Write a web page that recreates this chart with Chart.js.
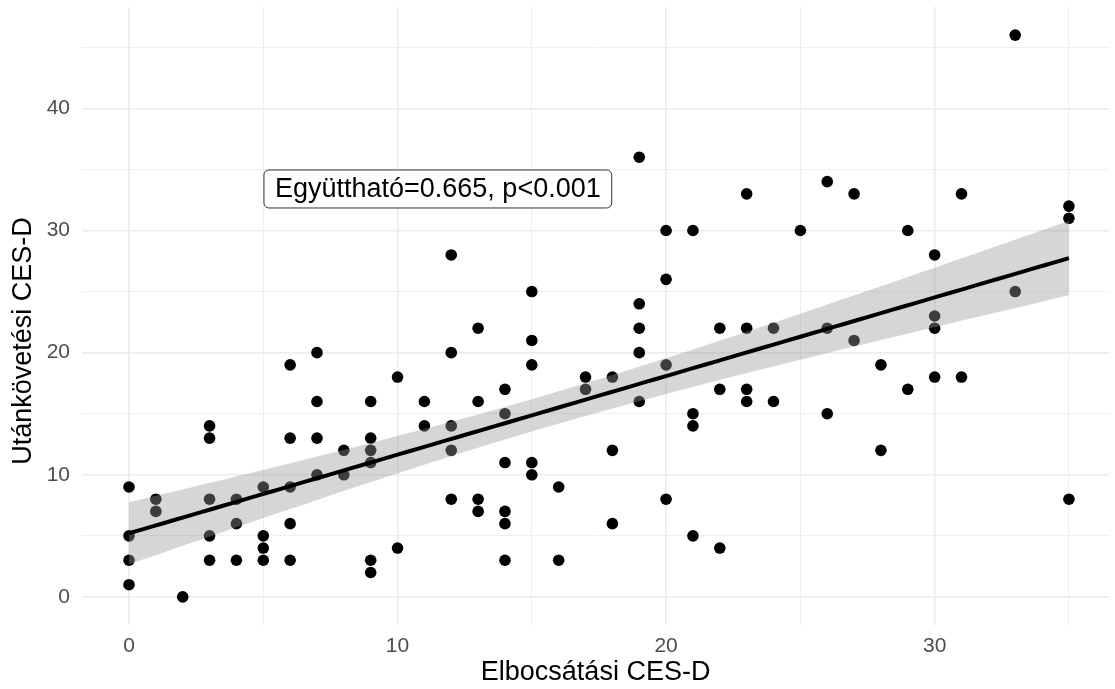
<!DOCTYPE html>
<html>
<head>
<meta charset="utf-8">
<script src="https://cdn.jsdelivr.net/npm/chart.js@4"></script>
<style>
  html, body { margin: 0; padding: 0; background: #fff; overflow: hidden; }
  #wrap { width: 1115px; height: 689px; }
</style>
</head>
<body>
<div id="wrap"><canvas id="chart"></canvas></div>
<script>
// Data
const elbocsatasi = [0,0,0,0, 1,1, 2, 3,3,3,3,3, 4,4,4, 5,5,5,5, 6,6,6,6,6, 7,7,7,7, 8,8,
  9,9,9,9,9,9, 10,10, 11,11, 12,12,12,12,12, 13,13,13,13, 14,14,14,14,14,14,
  15,15,15,15,15, 16,16, 17,17, 18,18,18, 19,19,19,19,19, 20,20,20,20,
  21,21,21,21, 22,22,22, 23,23,23,23, 24,24, 25, 26,26,26, 27,27, 28,28, 29,29,
  30,30,30,30, 31,31, 33,33, 35,35,35];
const utankovetesi = [9,5,3,1, 8,7, 0, 14,13,8,5,3, 8,6,3, 9,5,4,3, 19,13,9,6,3, 20,16,13,10, 12,10,
  16,13,12,11,3,2, 18,4, 16,14, 28,20,14,12,8, 22,16,8,7, 17,15,11,7,6,3,
  25,21,19,11,10, 9,3, 18,17, 18,12,6, 36,24,22,20,16, 30,26,19,8,
  30,15,14,5, 22,17,4, 33,22,17,16, 22,16, 30, 34,22,15, 33,21, 19,12, 30,17,
  28,23,22,18, 33,18, 46,25, 32,31,8];

const xTicks = [0, 5, 10, 15, 20, 25, 30, 35];
const yTicks = [0, 5, 10, 15, 20, 25, 30, 35, 40, 45];
const labelText = 'Együttható=0.665, p<0.001';
const yTitle = 'Utánkövetési CES-D';

// Linear fit + 95% confidence band (like geom_smooth(method = "lm"))
const n = elbocsatasi.length;
const mx = elbocsatasi.reduce((a, b) => a + b, 0) / n;
const my = utankovetesi.reduce((a, b) => a + b, 0) / n;
let sxx = 0, sxy = 0;
for (let i = 0; i < n; i++) {
  sxx += (elbocsatasi[i] - mx) ** 2;
  sxy += (elbocsatasi[i] - mx) * (utankovetesi[i] - my);
}
const slope = sxy / sxx;
const intercept = my - slope * mx;
let sse = 0;
for (let i = 0; i < n; i++) {
  sse += (utankovetesi[i] - intercept - slope * elbocsatasi[i]) ** 2;
}
const se = Math.sqrt(sse / (n - 2));
const tval = 1.982;
const xLo = Math.min(...elbocsatasi), xHi = Math.max(...elbocsatasi);

const fitLine = [], bandUp = [], bandLo = [];
for (let k = 0; k <= 80; k++) {
  const x = xLo + (xHi - xLo) * k / 80;
  const yh = intercept + slope * x;
  const h = tval * se * Math.sqrt(1 / n + (x - mx) ** 2 / sxx);
  fitLine.push({ x, y: yh });
  bandUp.push({ x, y: yh + h });
  bandLo.push({ x, y: yh - h });
}

const points = elbocsatasi.map((x, i) => ({ x, y: utankovetesi[i] }));

const font = "'Liberation Sans', Arial, sans-serif";
const gridW = ctx => (ctx.tick && ctx.tick.value % 10 === 0 ? 1.6 : 0.8);

// Label box drawn at a data position, plus the y axis title
const labelAt = { x: 11.5, y: 33.4 };
const labelPlugin = {
  id: 'labelBox',
  afterDatasetsDraw(chart) {
    const c = chart.ctx;
    const px = chart.scales.x.getPixelForValue(labelAt.x);
    const py = chart.scales.y.getPixelForValue(labelAt.y);
    c.save();
    c.font = '27px ' + font;
    const w = c.measureText(labelText).width + 22;
    const h = 38;
    c.beginPath();
    c.roundRect(px - w / 2, py - h / 2, w, h, 5);
    c.fillStyle = '#ffffff';
    c.fill();
    c.lineWidth = 1;
    c.strokeStyle = '#333333';
    c.stroke();
    c.fillStyle = '#000000';
    c.textAlign = 'center';
    c.textBaseline = 'middle';
    c.fillText(labelText, px, py + 1);
    c.restore();
  },
  afterDraw(chart) {
    const c = chart.ctx;
    c.save();
    c.translate(24, 341);
    c.rotate(-Math.PI / 2);
    c.font = '27px ' + font;
    c.fillStyle = '#000000';
    c.textAlign = 'center';
    c.textBaseline = 'middle';
    c.fillText(yTitle, 0, 0);
    c.restore();
  }
};

new Chart(document.getElementById('chart'), {
  type: 'scatter',
  data: {
    datasets: [
      {
        label: 'fit',
        data: fitLine,
        showLine: true,
        borderColor: '#000000',
        borderWidth: 4,
        pointRadius: 0,
        fill: false,
        order: 0
      },
      {
        label: 'upper',
        data: bandUp,
        showLine: true,
        borderWidth: 0,
        borderColor: 'rgba(0,0,0,0)',
        pointRadius: 0,
        fill: false,
        order: 1
      },
      {
        label: 'lower',
        data: bandLo,
        showLine: true,
        borderWidth: 0,
        borderColor: 'rgba(0,0,0,0)',
        backgroundColor: 'rgba(153,153,153,0.4)',
        pointRadius: 0,
        fill: '-1',
        order: 2
      },
      {
        label: 'points',
        data: points,
        backgroundColor: '#000000',
        borderWidth: 0,
        pointRadius: 5.8,
        order: 3
      }
    ]
  },
  options: {
    responsive: true,
    maintainAspectRatio: false,
    animation: false,
    layout: { padding: { top: 7, right: 0, left: 0, bottom: 0 } },
    plugins: {
      legend: { display: false },
      tooltip: { enabled: false }
    },
    scales: {
      x: {
        type: 'linear',
        min: -1.75,
        max: 36.5,
        afterBuildTicks: s => { s.ticks = xTicks.map(v => ({ value: v })); },
        afterFit: s => { s.height = 64; s.paddingLeft = 0; s.paddingRight = 0; },
        grid: { color: '#ebebeb', lineWidth: gridW, drawTicks: false },
        border: { display: false },
        ticks: {
          padding: 9,
          color: '#4d4d4d',
          font: { family: font, size: 21 },
          maxRotation: 0,
          callback: v => (v % 10 === 0 ? String(v) : '')
        },
        title: {
          display: true,
          text: 'Elbocsátási CES-D',
          color: '#000000',
          font: { family: font, size: 27 },
          padding: { top: 0, bottom: 0 }
        }
      },
      y: {
        type: 'linear',
        min: -2.3,
        max: 48.3,
        afterBuildTicks: s => { s.ticks = yTicks.map(v => ({ value: v })); },
        afterFit: s => { s.width = 82; s.paddingTop = 0; s.paddingBottom = 0; },
        grid: { color: '#ebebeb', lineWidth: gridW, drawTicks: false },
        border: { display: false },
        ticks: {
          padding: 12,
          color: '#4d4d4d',
          font: { family: font, size: 21 },
          callback: v => (v % 10 === 0 ? String(v) : '')
        },
        title: { display: false }
      }
    }
  },
  plugins: [labelPlugin]
});
</script>
</body>
</html>
